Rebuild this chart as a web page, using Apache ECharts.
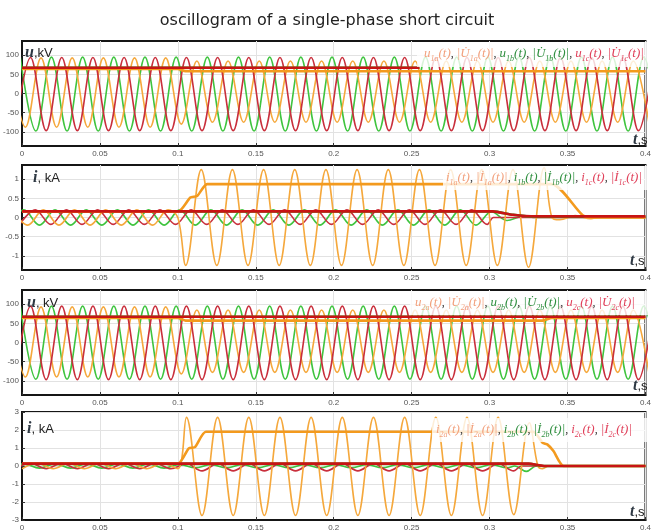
<!DOCTYPE html>
<html>
<head>
<meta charset="utf-8">
<script src="https://cdn.jsdelivr.net/npm/echarts@6/dist/echarts.min.js"></script>
<style>
    html, body { margin: 0; background: #fff; }
    #chart { width: 654px; height: 532px; }
</style>
</head>
<body>
<div id="chart"></div>
<script>
// tick labels
var uTicks = [-100, -50, 0, 50, 100];
var i1Ticks = [-1, -0.5, 0, 0.5, 1];
var i2Ticks = [-3, -2, -1, 0, 1, 2, 3];

// half period of 50 Hz, s
var halfPeriod = 0.01;

// ---- line 1 voltages, kV: time of first extremum + half-cycle peaks
var ua1Start = -0.0078;
var ua1Peaks = [93, -88, 93, -88, 93, -88, 93, -88, 93, -88, 93,
    -80, 85, -75, 85, -75, 85, -75, 85, -75, 85, -75, 85, -75, 85, -75, 85, -75,
    85, -75, 85, -75, 85, -75, 85, -75, 85, -75, 85, -75, 85, -75];
var ub1Start = -0.0011;
var ub1Peaks = [95, -98, 95, -98, 95, -98, 95, -98, 95, -98, 95, -98, 95, -98,
    95, -98, 95, -98, 95, -98, 95, -98, 95, -98, 95, -98, 95, -98,
    95, -98, 95, -98, 95, -98, 95, -98, 95, -98, 95, -98, 95, -98];
var uc1Start = -0.0045;
var uc1Peaks = [-97, 94, -97, 94, -97, 94, -97, 94, -97, 94, -97, 94, -97, 94,
    -97, 94, -97, 94, -97, 94, -97, 94, -97, 94, -97, 94, -97, 94,
    -97, 94, -97, 94, -97, 94, -97, 94, -97, 94, -97, 94, -97, 94];
var U1a = [[0, 64], [0.1, 64], [0.104, 59], [0.11, 58], [0.4, 58]];
var U1b = [[0, 67], [0.255, 67]];
var U1c = [[0, 67], [0.255, 67]];

// ---- line 1 currents, kA
var ia1LoadStart = -0.0063;
var ia1Load = [0.2, -0.2, 0.2, -0.2, 0.2, -0.2, 0.2, -0.2, 0.2, -0.2, 0.2];
var ia1FaultStart = 0.105;
var ia1Fault = [-1.25, 1.25, -1.25, 1.25, -1.25, 1.25, -1.25, 1.25, -1.25, 1.25, -1.25, 1.25,
    -1.25, 1.25, -1.25, 1.25, -1.25, 1.25, -1.25, 1.25, -1.25, 1.25, -1.3, 1.3];
var ia1TailStart = 0.345;
var ia1Tail = [-0.06, 0.05, -0.03];
var ib1Start = -0.0088;
var ib1Peaks = [-0.2, 0.2, -0.2, 0.2, -0.2, 0.2, -0.2, 0.2, -0.2, 0.2, -0.2, 0.2, -0.2, 0.2, -0.2, 0.2,
    -0.2, 0.2, -0.2, 0.2, -0.2, 0.2, -0.2, 0.2, -0.2, 0.2, -0.2, 0.2, -0.2, 0.2, -0.2,
    0.15, -0.08, 0.03];
var ic1Start = -0.0015;
var ic1Peaks = [-0.18, 0.2, -0.18, 0.2, -0.18, 0.2, -0.18, 0.2, -0.18, 0.2, -0.18, 0.2, -0.18, 0.2, -0.18, 0.2,
    -0.18, 0.2, -0.18, 0.2, -0.18, 0.2, -0.18, 0.2, -0.18, 0.2, -0.18, 0.2, -0.18, 0.2, -0.18];
var I1a = [[0, 0.15], [0.1, 0.15], [0.108, 0.52], [0.1124, 0.56], [0.1188, 0.87], [0.34, 0.87], [0.36, 0.05], [0.37, 0], [0.4, 0]];
var I1b = [[0, 0.16], [0.302, 0.16], [0.315, 0.07], [0.33, 0.02], [0.4, 0.02]];
var I1c = [[0, 0.16], [0.302, 0.16], [0.315, 0.07], [0.33, 0.03], [0.4, 0.03]];

// ---- line 2 voltages, kV
var ua2Start = -0.0078;
var ua2Peaks = [93, -90, 93, -90, 93, -90, 93, -90, 93, -90, 93,
    -82, 85, -78, 85, -78, 85, -78, 85, -78, 85, -78, 85, -78, 85, -78, 85, -78,
    85, -78, 85, -78, 85, -78, 85, -78, 85, -78, 85, -78, 85, -78];
var ub2Start = -0.0011;
var ub2Peaks = [95, -96, 95, -96, 95, -96, 95, -96, 95, -96, 95, -96, 95, -96,
    95, -96, 95, -96, 95, -96, 95, -96, 95, -96, 95, -96, 95, -96,
    95, -96, 95, -96, 95, -96, 95, -96, 95, -96, 95, -96, 95, -96];
var uc2Start = -0.0045;
var uc2Peaks = [-97, 95, -97, 95, -97, 95, -97, 95, -97, 95, -97, 95, -97, 95,
    -97, 95, -97, 95, -97, 95, -97, 95, -97, 95, -97, 95, -97, 95,
    -97, 95, -97, 95, -97, 95, -97, 95, -97, 95, -97, 95, -97, 95];
var U2a = [[0, 64], [0.1, 64], [0.105, 57], [0.334, 57], [0.34, 64], [0.4, 64]];
var U2b = [[0, 67], [0.4, 67]];
var U2c = [[0, 67], [0.4, 67]];

// ---- line 2 currents, kA
var ia2LoadStart = 0;
var ia2Load = [-0.15, 0.15, -0.15, 0.15, -0.15, 0.15, -0.15, 0.15, -0.15, 0.15, -0.15];
var ia2FaultStart = 0.1055;
var ia2Fault = [2.7, -2.75, 2.7, -2.75, 2.7, -2.75, 2.7, -2.75, 2.7, -2.75, 2.7, -2.75,
    2.7, -2.75, 2.7, -2.75, 2.7, -2.75, 2.7, -2.75, 2.7, -2.7, 2.4];
var ia2Tail = [[0.331, 0], [0.334, -0.15], [0.338, 0], [0.4, 0]];
var ib2Start = -0.0088;
var ib2Peaks = [-0.12, 0.12, -0.12, 0.12, -0.12, 0.12, -0.12, 0.12, -0.12, 0.12, -0.12,
    0.08, -0.1, 0.08, -0.1, 0.08, -0.1, 0.08, -0.1, 0.08, -0.1, 0.08, -0.1,
    0.08, -0.1, 0.08, -0.1, 0.08, -0.1, 0.08, -0.1, 0.08, -0.1];
var ib2Tail = [[0.3162, 0], [0.3236, -0.3], [0.33, 0], [0.4, 0]];
var ic2Start = -0.0045;
var ic2Peaks = [-0.15, 0.15, -0.15, 0.15, -0.15, 0.15, -0.15, 0.15, -0.15, 0.15, -0.15,
    0.13, -0.27, 0.13, -0.27, 0.13, -0.27, 0.13, -0.27, 0.13, -0.27, 0.13, -0.27,
    0.13, -0.27, 0.13, -0.27, 0.13, -0.27, 0.13, -0.27, 0.13, -0.27];
var ic2Tail = [[0.3205, 0], [0.4, 0]];
var I2a = [[0, 0.13], [0.1, 0.13], [0.107, 0.98], [0.111, 1.05], [0.118, 1.9], [0.328, 1.9], [0.334, 1.29], [0.337, 1.2], [0.341, 0.83], [0.3475, 0], [0.4, 0]];
var I2b = [[0, 0.12], [0.325, 0.12], [0.335, 0], [0.4, 0]];
var I2c = [[0, 0.13], [0.325, 0.13], [0.335, 0], [0.4, 0]];

// one point per half-cycle peak
function wave(t0, peaks) {
    return peaks.map(function (v, k) {
        return [t0 + k * halfPeriod, v];
    });
}
function join() {
    var out = [];
    for (var i = 0; i < arguments.length; i++) {
        arguments[i].forEach(function (p) {
            if (!out.length || p[0] - out[out.length - 1][0] > 1e-6) out.push(p);
        });
    }
    return out;
}

var cOrange = '#f5a83c', cGreen = '#3fc43f', cRed = '#c92f3c';
var cOrangeM = '#f39a1e', cRedM = '#c81414', cGreenM = '#2ea82e';

function wv(name, idx, data, color, z) {
    return {
        name: name, type: 'line', xAxisIndex: idx, yAxisIndex: idx, data: data,
        showSymbol: false, smooth: 0.36, z: z,
        lineStyle: { color: color, width: 1.6 }
    };
}
function mag(name, idx, data, color, z) {
    return {
        name: name, type: 'line', xAxisIndex: idx, yAxisIndex: idx, data: data,
        showSymbol: false, smooth: 0.2, z: z,
        lineStyle: { color: color, width: 2.6 }
    };
}

var grids = [
    { left: 22, top: 41, width: 628, height: 105 },
    { left: 22, top: 165, width: 628, height: 105 },
    { left: 22, top: 290, width: 628, height: 105 },
    { left: 22, top: 412, width: 628, height: 108 }
].map(function (g) {
    g.show = true; g.borderColor = '#151515'; g.borderWidth = 2;
    return g;
});

var xAxes = grids.map(function (g, i) {
    return {
        type: 'value', gridIndex: i, min: 0, max: 0.4, interval: 0.05,
        axisLine: { onZero: false, lineStyle: { color: '#151515', width: 2 } },
        axisTick: { inside: true, length: 3, lineStyle: { color: '#333' } },
        axisLabel: { fontSize: 8, color: '#555', margin: 4, fontFamily: 'Liberation Sans' },
        splitLine: { show: true, lineStyle: { color: '#e2e2e2' } }
    };
});

function yAxis(i, min, max, ticks) {
    return {
        type: 'value', gridIndex: i, min: min, max: max,
        axisLine: { show: true, onZero: false, lineStyle: { color: '#151515', width: 2 } },
        axisTick: { show: true, inside: true, length: 3, customValues: ticks, lineStyle: { color: '#333' } },
        axisLabel: { fontSize: 8, color: '#555', margin: 3, customValues: ticks, fontFamily: 'Liberation Sans' },
        splitLine: { show: true, lineStyle: { color: '#e2e2e2' } }
    };
}
var yAxes = [
    yAxis(0, -137, 137, uTicks),
    yAxis(1, -1.37, 1.37, i1Ticks),
    yAxis(2, -137, 137, uTicks),
    yAxis(3, -3, 3, i2Ticks)
];

var series = [
    wv('ub1', 0, wave(ub1Start, ub1Peaks), cGreen, 2),
    wv('ua1', 0, wave(ua1Start, ua1Peaks), cOrange, 3),
    wv('uc1', 0, wave(uc1Start, uc1Peaks), cRed, 4),
    mag('|U1b|', 0, U1b, cGreenM, 5),
    mag('|U1a|', 0, U1a, cOrangeM, 6),
    mag('|U1c|', 0, U1c, cRedM, 7),

    wv('ib1', 1, join(wave(ib1Start, ib1Peaks), [[0.33, 0], [0.4, 0]]), cGreen, 2),
    wv('ic1', 1, join(wave(ic1Start, ic1Peaks), [[0.3025, 0], [0.31, 0], [0.4, 0]]), cRed, 3),
    wv('ia1', 1, join(wave(ia1LoadStart, ia1Load), [[0.1, 0]],
        wave(ia1FaultStart, ia1Fault), [[0.34, 0]], wave(ia1TailStart, ia1Tail), [[0.37, 0], [0.4, 0]]), cOrange, 4),
    mag('|I1b|', 1, I1b, cGreenM, 5),
    mag('|I1a|', 1, I1a, cOrangeM, 6),
    mag('|I1c|', 1, I1c, cRedM, 7),

    wv('ub2', 2, wave(ub2Start, ub2Peaks), cGreen, 2),
    wv('ua2', 2, wave(ua2Start, ua2Peaks), cOrange, 3),
    wv('uc2', 2, wave(uc2Start, uc2Peaks), cRed, 4),
    mag('|U2b|', 2, U2b, cGreenM, 5),
    mag('|U2a|', 2, U2a, cOrangeM, 6),
    mag('|U2c|', 2, U2c, cRedM, 7),

    wv('ib2', 3, join(wave(ib2Start, ib2Peaks), ib2Tail), cGreen, 2),
    wv('ic2', 3, join(wave(ic2Start, ic2Peaks), ic2Tail), cRed, 3),
    wv('ia2', 3, join(wave(ia2LoadStart, ia2Load), wave(ia2FaultStart, ia2Fault), ia2Tail), cOrange, 4),
    mag('|I2b|', 3, I2b, cGreenM, 5),
    mag('|I2a|', 3, I2a, cOrangeM, 6),
    mag('|I2c|', 3, I2c, cRedM, 7)
];

// legend-like formula labels (zrender rich text uses fill for colour)
var legendRich = { k: { fill: '#333', fontSize: 12, fontFamily: 'Liberation Serif', lineHeight: 17 } };
[['a', '#f2a07c'], ['b', '#2f8f3f'], ['c', '#e0405a']].forEach(function (p) {
    legendRich[p[0] + 'M'] = { fill: p[1], fontSize: 13, fontStyle: 'italic', fontFamily: 'Liberation Serif', lineHeight: 17 };
    legendRich[p[0] + 'S'] = { fill: p[1], fontSize: 8, fontStyle: 'italic', fontFamily: 'Liberation Serif', lineHeight: 10, verticalAlign: 'bottom' };
});
function formula(v, V, n) {
    return ['a', 'b', 'c'].map(function (ph) {
        return '{' + ph + 'M|' + v + '}{' + ph + 'S|' + n + ph + '}{' + ph + 'M|(t)}{k|, }' +
            '{' + ph + 'M||' + V + '}{' + ph + 'S|' + n + ph + '}{' + ph + 'M|(t)|}';
    }).join('{k|, }');
}
var legends = [
    { box: [417, 42, 233, 25], x: 424, y: 54, text: formula('u', 'U\u0307', '1') },
    { box: [443, 166, 207, 24], x: 446, y: 178, text: formula('i', 'I\u0307', '1') },
    { box: [410, 291, 240, 24], x: 415, y: 303, text: formula('u', 'U\u0307', '2') },
    { box: [432, 418, 218, 24], x: 436, y: 430, text: formula('i', 'I\u0307', '2') }
];

var axisRich = {
    v: { fontSize: 16, fontStyle: 'italic', fontWeight: 'bold', fontFamily: 'Liberation Serif', fill: '#2d3742' },
    n: { fontSize: 13, fontFamily: 'Liberation Sans', fill: '#222' }
};
var axisNames = [
    { x: 25, y: 53, text: '{v|u}{n|,kV}' },
    { x: 33, y: 178, text: '{v|i}{n|, kA}' },
    { x: 27, y: 303, text: '{v|u}{n|, kV}' },
    { x: 27, y: 429, text: '{v|i}{n|, kA}' },
    { x: 633, y: 140, text: '{v|t}{n|,s}' },
    { x: 630, y: 261, text: '{v|t}{n|,s}' },
    { x: 633, y: 386, text: '{v|t}{n|,s}' },
    { x: 630, y: 512, text: '{v|t}{n|,s}' }
];

var graphics = [];
legends.forEach(function (l) {
    graphics.push({ type: 'rect', z: 50, shape: { x: l.box[0], y: l.box[1], width: l.box[2], height: l.box[3] },
        style: { fill: 'rgba(255,255,255,0.8)' } });
    graphics.push({ type: 'text', z: 51, x: l.x, y: l.y,
        style: { text: l.text, rich: legendRich, verticalAlign: 'middle' } });
});
axisNames.forEach(function (a) {
    graphics.push({ type: 'text', z: 52, x: a.x, y: a.y,
        style: { text: a.text, rich: axisRich, verticalAlign: 'middle' } });
});

var chart = echarts.init(document.getElementById('chart'));
chart.setOption({
    animation: false,
    backgroundColor: '#fff',
    title: {
        text: 'oscillogram of a single-phase short circuit',
        left: 'center', top: 8,
        textStyle: { fontSize: 16, fontWeight: 'normal', color: '#222', fontFamily: 'DejaVu Sans' }
    },
    grid: grids,
    xAxis: xAxes,
    yAxis: yAxes,
    series: series,
    graphic: graphics
});
window.addEventListener('resize', function () {
    chart.resize();
});
</script>
</body>
</html>
